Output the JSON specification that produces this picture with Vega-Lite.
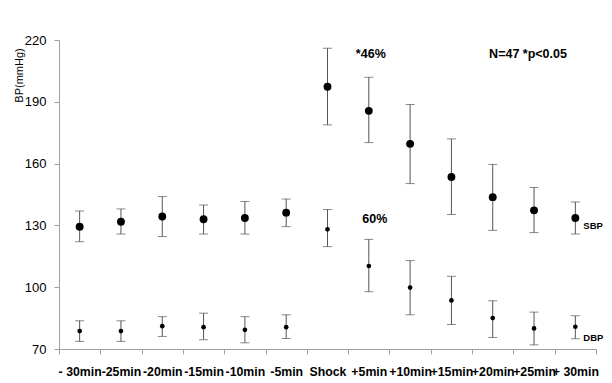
{
  "$schema": "https://vega.github.io/schema/vega-lite/v6.json",
  "autosize": {"type": "none"},
  "padding": {"left": 59, "top": 40, "right": 16, "bottom": 34},
  "width": 537,
  "height": 309,
  "background": "white",
  "config": {
    "view": {"stroke": null},
    "font": "Liberation Sans",
    "axis": {"domainColor": "#a0a0a0", "tickColor": "#a0a0a0", "labelColor": "black", "grid": false, "labelFont": "Liberation Sans", "titleFont": "Liberation Sans"}
  },
  "datasets": {
    "bp": [
      {"time": "- 30min", "series": "SBP", "mean": 129.4, "lo": 122.1, "hi": 137.0},
      {"time": "-25min", "series": "SBP", "mean": 131.8, "lo": 125.8, "hi": 138.0},
      {"time": "-20min", "series": "SBP", "mean": 134.3, "lo": 124.6, "hi": 144.0},
      {"time": "-15min", "series": "SBP", "mean": 133.0, "lo": 125.8, "hi": 139.9},
      {"time": "-10min", "series": "SBP", "mean": 133.6, "lo": 125.8, "hi": 141.6},
      {"time": "-5min", "series": "SBP", "mean": 136.2, "lo": 129.4, "hi": 142.8},
      {"time": "Shock", "series": "SBP", "mean": 197.3, "lo": 178.8, "hi": 216.0},
      {"time": "+5min", "series": "SBP", "mean": 185.6, "lo": 170.2, "hi": 201.9},
      {"time": "+10min", "series": "SBP", "mean": 169.6, "lo": 150.3, "hi": 188.7},
      {"time": "+15min", "series": "SBP", "mean": 153.5, "lo": 135.3, "hi": 172.0},
      {"time": "+20min", "series": "SBP", "mean": 143.7, "lo": 127.6, "hi": 159.6},
      {"time": "+25min", "series": "SBP", "mean": 137.3, "lo": 126.5, "hi": 148.4},
      {"time": "+ 30min", "series": "SBP", "mean": 133.6, "lo": 125.8, "hi": 141.4},
      {"time": "- 30min", "series": "DBP", "mean": 78.7, "lo": 73.7, "hi": 83.7},
      {"time": "-25min", "series": "DBP", "mean": 78.7, "lo": 73.7, "hi": 83.7},
      {"time": "-20min", "series": "DBP", "mean": 81.1, "lo": 76.1, "hi": 85.7},
      {"time": "-15min", "series": "DBP", "mean": 80.6, "lo": 74.5, "hi": 87.4},
      {"time": "-10min", "series": "DBP", "mean": 79.3, "lo": 73.0, "hi": 85.7},
      {"time": "-5min", "series": "DBP", "mean": 80.6, "lo": 75.1, "hi": 86.6},
      {"time": "Shock", "series": "DBP", "mean": 128.1, "lo": 119.7, "hi": 137.7},
      {"time": "+5min", "series": "DBP", "mean": 110.3, "lo": 97.8, "hi": 123.2},
      {"time": "+10min", "series": "DBP", "mean": 99.8, "lo": 86.6, "hi": 112.9},
      {"time": "+15min", "series": "DBP", "mean": 93.6, "lo": 81.9, "hi": 105.3},
      {"time": "+20min", "series": "DBP", "mean": 85.0, "lo": 75.6, "hi": 93.4},
      {"time": "+25min", "series": "DBP", "mean": 80.0, "lo": 72.0, "hi": 87.9},
      {"time": "+ 30min", "series": "DBP", "mean": 80.8, "lo": 75.0, "hi": 86.1}
    ],
    "notes": [
      {"time": "+5min", "y": 213.2, "label": "*46%", "kind": "a"},
      {"time": "+5min", "y": 133.0, "label": "60%", "kind": "b"},
      {"time": "+25min", "y": 213.2, "label": "N=47 *p<0.05", "kind": "c"},
      {"time": "+ 30min", "y": 129.6, "label": "SBP", "kind": "d"},
      {"time": "+ 30min", "y": 75.1, "label": "DBP", "kind": "d"}
    ]
  },
  "layer": [
    {
      "data": {"name": "bp"},
      "mark": {"type": "rule", "color": "#555555", "strokeWidth": 1},
      "encoding": {
        "x": {
          "field": "time", "type": "ordinal", "sort": null,
          "scale": {"type": "band", "paddingInner": 0, "paddingOuter": 0,
            "domain": ["- 30min", "-25min", "-20min", "-15min", "-10min", "-5min", "Shock", "+5min", "+10min", "+15min", "+20min", "+25min", "+ 30min"]},
          "axis": {"title": null, "labelAngle": 0, "labelFontSize": 12.3, "labelFontWeight": "bold", "labelPadding": 11, "tickSize": 5, "tickBand": "extent", "labelOverlap": false, "labelFlush": false, "labelBound": false}
        },
        "y": {
          "field": "lo", "type": "quantitative",
          "scale": {"domain": [70, 220], "nice": false, "zero": false},
          "axis": {"values": [70, 100, 130, 160, 190, 220], "labelFontSize": 13, "labelPadding": 8, "tickSize": 5,
            "title": "BP(mmHg)", "titleFontSize": 11, "titleFontWeight": "normal", "titleAngle": -90, "titleX": -37, "titleY": 35, "titleAlign": "center", "titleBaseline": "alphabetic"}
        },
        "y2": {"field": "hi"}
      }
    },
    {
      "data": {"name": "bp"},
      "mark": {"type": "tick", "orient": "horizontal", "color": "#555555", "size": 9, "thickness": 1},
      "encoding": {
        "x": {"field": "time", "type": "ordinal", "sort": null},
        "y": {"field": "lo", "type": "quantitative"}
      }
    },
    {
      "data": {"name": "bp"},
      "mark": {"type": "tick", "orient": "horizontal", "color": "#555555", "size": 9, "thickness": 1},
      "encoding": {
        "x": {"field": "time", "type": "ordinal", "sort": null},
        "y": {"field": "hi", "type": "quantitative"}
      }
    },
    {
      "data": {"name": "bp"},
      "mark": {"type": "point", "filled": true, "color": "black", "opacity": 1},
      "encoding": {
        "x": {"field": "time", "type": "ordinal", "sort": null},
        "y": {"field": "mean", "type": "quantitative"},
        "size": {"field": "series", "type": "nominal", "scale": {"domain": ["SBP", "DBP"], "range": [62, 22]}, "legend": null}
      }
    },
    {
      "data": {"name": "notes"},
      "transform": [{"filter": "datum.kind == 'a'"}],
      "mark": {"type": "text", "fontWeight": "bold", "fontSize": 12.5, "align": "center", "baseline": "middle", "dx": 2},
      "encoding": {
        "x": {"field": "time", "type": "ordinal", "sort": null},
        "y": {"field": "y", "type": "quantitative"},
        "text": {"field": "label"}
      }
    },
    {
      "data": {"name": "notes"},
      "transform": [{"filter": "datum.kind == 'b'"}],
      "mark": {"type": "text", "fontWeight": "bold", "fontSize": 12.5, "align": "center", "baseline": "middle", "dx": 6},
      "encoding": {
        "x": {"field": "time", "type": "ordinal", "sort": null},
        "y": {"field": "y", "type": "quantitative"},
        "text": {"field": "label"}
      }
    },
    {
      "data": {"name": "notes"},
      "transform": [{"filter": "datum.kind == 'c'"}],
      "mark": {"type": "text", "fontWeight": "bold", "fontSize": 12.5, "align": "center", "baseline": "middle", "dx": -6},
      "encoding": {
        "x": {"field": "time", "type": "ordinal", "sort": null},
        "y": {"field": "y", "type": "quantitative"},
        "text": {"field": "label"}
      }
    },
    {
      "data": {"name": "notes"},
      "transform": [{"filter": "datum.kind == 'd'"}],
      "mark": {"type": "text", "fontWeight": "bold", "fontSize": 9.5, "align": "left", "baseline": "middle", "dx": 8},
      "encoding": {
        "x": {"field": "time", "type": "ordinal", "sort": null},
        "y": {"field": "y", "type": "quantitative"},
        "text": {"field": "label"}
      }
    }
  ]
}
